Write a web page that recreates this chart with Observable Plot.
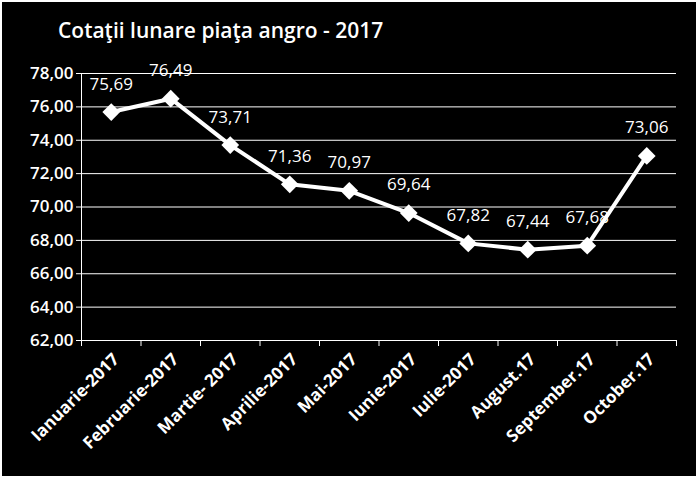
<!DOCTYPE html>
<html><head><meta charset="utf-8">
<script src="https://cdn.jsdelivr.net/npm/d3@7"></script>
<script src="https://cdn.jsdelivr.net/npm/@observablehq/plot@0.6"></script>
<style>
body{margin:0;background:#000;}
#wrap{position:relative;width:698px;height:479px;background:#000;overflow:hidden;}
#title{position:absolute;left:58px;top:16px;color:#fff;font:600 21px "Open Sans",sans-serif;white-space:nowrap;}
#frame{position:absolute;left:0;top:0;width:698px;height:479px;box-sizing:border-box;border-top:2px solid #fff;border-left:2px solid #fff;border-right:2px solid #fff;border-bottom:3px solid #fff;pointer-events:none;}
</style></head><body>
<div id="wrap"><div id="chart"></div><div id="title">Cotaţii lunare piaţa angro - 2017</div><div id="frame"></div></div>
<script>
const months = ["Ianuarie-2017","Februarie-2017","Martie- 2017","Aprilie-2017","Mai-2017","Iunie-2017","Iulie-2017","August.17","September.17","October.17"];
const values = [75.69, 76.49, 73.71, 71.36, 70.97, 69.64, 67.82, 67.44, 67.68, 73.06];
const yTicks = [62, 64, 66, 68, 70, 72, 74, 76, 78];

const data = months.map((m, i) => ({i, m, v: values[i]}));
const fmt = v => v.toFixed(2).replace(".", ",");
const boundaries = d3.range(-0.5, months.length);

const chart = Plot.plot({
  width: 698, height: 479,
  marginLeft: 81, marginRight: 22, marginTop: 73, marginBottom: 139,
  style: {background: "#000", color: "#fff", fontFamily: "'Open Sans', sans-serif", overflow: "visible"},
  x: {type: "linear", domain: [-0.5, months.length - 0.5], axis: null},
  y: {domain: [62, 78], axis: null},
  marks: [
    Plot.gridY(yTicks, {stroke: "#fff", strokeOpacity: 1, strokeWidth: 1}),
    Plot.axisY(yTicks, {label: null, tickFormat: fmt, tickSize: 5, tickPadding: 3, fontSize: 17, fontWeight: 600, fill: "#fff", stroke: "#fff"}),
    Plot.ruleX([-0.5], {stroke: "#fff", strokeWidth: 1}),
    Plot.ruleY([62], {stroke: "#fff", strokeWidth: 1}),
    Plot.axisX(boundaries, {label: null, tickFormat: () => "", tickSize: 6, stroke: "#fff"}),
    Plot.axisX(d3.range(months.length), {label: null, tickFormat: i => months[i], tickSize: 0, tickRotate: -45, tickPadding: 16, dx: 5, fontSize: 17, fontWeight: 700, fill: "#fff"}),
    Plot.line(data, {x: "i", y: "v", stroke: "#fff", strokeWidth: 4}),
    Plot.dot(data, {x: "i", y: "v", symbol: "diamond2", r: 8, fill: "#fff", stroke: "none"}),
    Plot.text(data, {x: "i", y: "v", text: d => fmt(d.v), dy: -28, fill: "#fff", fontSize: 17, fontWeight: 500})
  ]
});
document.getElementById("chart").appendChild(chart);
</script>
</body></html>
